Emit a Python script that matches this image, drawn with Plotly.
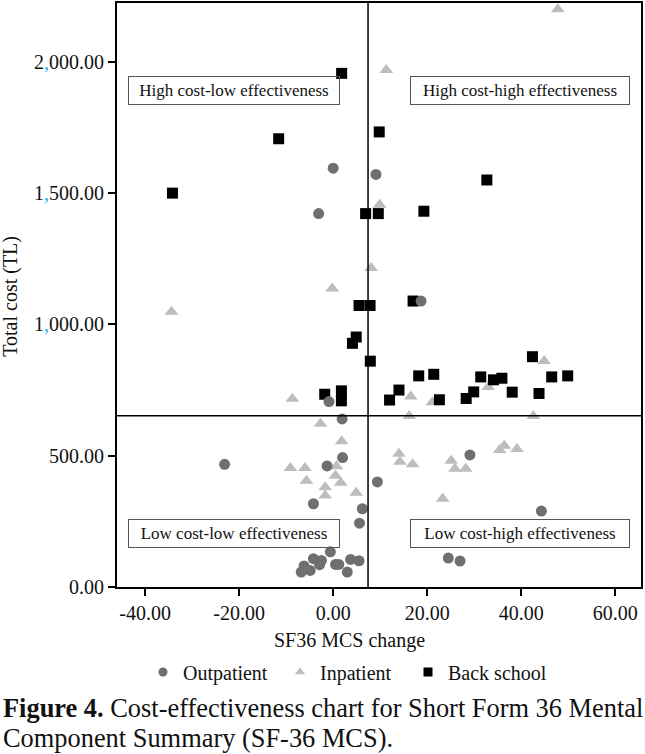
import plotly.graph_objects as go

# ---------------- data ----------------
out_x = [-3.1, 0.0, 9.1, 18.7, -0.9, 1.9, 2.0, -1.3, 9.4, -4.2, 6.2, 5.6, -0.6,
         -4.2, -2.5, -6.2, -6.8, -4.9, -2.9, 0.5, 1.2, 3.7, 5.5, 3.0,
         29.1, 44.3, 24.5, 27.0, -23.1]
out_y = [1422, 1595, 1571, 1089, 706, 640, 493, 461, 400, 317, 298, 243, 134,
         108, 101, 80, 57, 63, 85, 86, 86, 105, 100, 57,
         503, 289, 110, 99, 467]

inp_x = [47.8, 11.3, 9.9, 8.1, -0.2, -34.4, -8.7, -2.7, 1.8, -9.1, -6.0, -5.7,
         0.7, 0.5, 1.6, -1.7, -1.7, 4.9, 16.5, 16.2, 21.1, 33.0, 44.9, 42.6,
         14.0, 14.2, 16.9, 25.1, 25.9, 28.2, 35.4, 36.4, 39.1, 23.3]
inp_y = [2200, 1969, 1456, 1215, 1137, 1048, 717, 622, 555, 453, 453, 405,
         460, 424, 397, 380, 348, 359, 725, 651, 704, 762, 861, 651,
         507, 477, 467, 481, 450, 450, 522, 538, 526, 336]

bs_x = [-34.2, -11.6, 1.8, 9.8, 32.7, 6.9, 9.6, 19.3, 5.5, 7.85, 17.0, 4.1, 4.9,
        7.9, -1.8, 1.75, 1.75, 12.0, 14.0, 18.2, 21.4, 22.6, 28.3, 29.9, 31.4,
        34.1, 35.9, 38.1, 42.4, 43.8, 46.5, 49.9]
bs_y = [1500, 1707, 1956, 1733, 1550, 1422, 1422, 1431, 1072, 1072, 1089, 928, 952,
        860, 734, 747, 709, 712, 750, 804, 810, 713, 718, 743, 800,
        789, 795, 742, 877, 737, 800, 804]

series_names = ["Outpatient", "Inpatient", "Back school"]

x_tickvals = [-40, -20, 0, 20, 40, 60]
x_ticktext = ["-40.00", "-20.00", "0.00", "20.00", "40.00", "60.00"]
y_tickvals = [0, 500, 1000, 1500, 2000]
y_ticktext = ["0.00", "500.00", "1<span style='color:#29abe2'>,</span>000.00",
              "1<span style='color:#29abe2'>,</span>500.00",
              "2<span style='color:#29abe2'>,</span>000.00"]

x_ref = 7.42     # vertical reference line (SF36 MCS change)
y_ref = 652      # horizontal reference line (total cost)

quadrant_labels = ["High cost-low effectiveness", "High cost-high effectiveness",
                   "Low cost-low effectiveness", "Low cost-high effectiveness"]

x_title = "SF36 MCS change"
y_title = "Total cost (TL)"
caption_1 = "<b>Figure 4.</b> Cost-effectiveness chart for Short Form 36 Mental"
caption_2 = "Component Summary (SF-36 MCS)."

# ---------------- styling ----------------
FONT = "Liberation Serif, Times New Roman, serif"
C_OUT = "#6f6f72"
C_INP = "#bdbdbd"
C_BS = "#000000"

fig = go.Figure()

# draw order: inpatient, back school, outpatient (outpatient on top)
fig.add_trace(go.Scatter(x=inp_x, y=inp_y, mode="markers", name=series_names[1],
                         marker=dict(symbol="triangle-up", size=12, color=C_INP),
                         showlegend=False))
fig.add_trace(go.Scatter(x=bs_x, y=bs_y, mode="markers", name=series_names[2],
                         marker=dict(symbol="square", size=11, color=C_BS),
                         showlegend=False))
fig.add_trace(go.Scatter(x=out_x, y=out_y, mode="markers", name=series_names[0],
                         marker=dict(symbol="circle", size=11, color=C_OUT),
                         showlegend=False))

# legend entries (small symbols as in the reference), one legend per entry
legend_ids = ["legend", "legend2", "legend3"]
for name, sym, col, lid in zip(series_names, ["circle", "triangle-up", "square"],
                               [C_OUT, C_INP, C_BS], legend_ids):
    fig.add_trace(go.Scatter(x=[None], y=[None], mode="markers", name=name,
                             legend=lid,
                             marker=dict(symbol=sym, size=9, color=col)))

# reference lines
fig.add_shape(type="line", xref="x", yref="paper", x0=x_ref, x1=x_ref, y0=0, y1=1,
              line=dict(color="black", width=1.5))
fig.add_shape(type="line", xref="paper", yref="y", x0=0, x1=1, y0=y_ref, y1=y_ref,
              line=dict(color="black", width=1.5))

# quadrant label boxes
box_pos = [(0.2232, 0.8503, 210), (0.769, 0.8503, 218),
           (0.2232, 0.0912, 210), (0.769, 0.0912, 218)]
for txt, (bx, by, bw) in zip(quadrant_labels, box_pos):
    fig.add_annotation(xref="paper", yref="paper", x=bx, y=by, text=txt,
                       showarrow=False, width=bw, height=27, borderpad=0,
                       bordercolor="#555555", borderwidth=1,
                       font=dict(family=FONT, size=17, color="#111111"),
                       xanchor="center", yanchor="middle")

# axis titles
fig.add_annotation(xref="paper", yref="paper", x=0.444, y=-0.091, text=x_title,
                   showarrow=False, xanchor="center", yanchor="middle",
                   font=dict(family=FONT, size=20, color="#111111"))
fig.add_annotation(xref="paper", yref="paper", x=(11 - 117.3) / 523.7, y=0.498,
                   text=y_title,
                   showarrow=False, xanchor="center", yanchor="middle", textangle=-90,
                   font=dict(family=FONT, size=20, color="#111111"))

# caption
fig.add_annotation(xref="paper", yref="paper", x=-0.222, y=-0.2071, text=caption_1,
                   showarrow=False, xanchor="left", yanchor="middle", align="left",
                   font=dict(family=FONT, size=26.4, color="#111111"))
fig.add_annotation(xref="paper", yref="paper", x=-0.222, y=-0.2583, text=caption_2,
                   showarrow=False, xanchor="left", yanchor="middle", align="left",
                   font=dict(family=FONT, size=26.4, color="#111111"))

axis_common = dict(showgrid=False, zeroline=False, showline=True, linewidth=2,
                   linecolor="black", mirror=True, ticks="outside", ticklen=7,
                   tickwidth=2, tickcolor="black",
                   tickfont=dict(family=FONT, size=20, color="#111111"))

legend_common = dict(orientation="h", xref="container", yref="container",
                     y=0.1088, xanchor="left", yanchor="middle",
                     font=dict(family=FONT, size=20, color="#111111"),
                     bgcolor="rgba(0,0,0,0)", itemwidth=30)

fig.update_layout(
    width=645, height=754,
    margin=dict(l=117, r=4, t=1, b=167),
    paper_bgcolor="white", plot_bgcolor="white",
    xaxis=dict(range=[-46, 65.5], tickvals=x_tickvals, ticktext=x_ticktext,
               **axis_common),
    yaxis=dict(range=[0, 2224], tickvals=y_tickvals, ticktext=y_ticktext,
               **axis_common),
    legend=dict(x=143 / 645, **legend_common),
    legend2=dict(x=280 / 645, **legend_common),
    legend3=dict(x=408 / 645, **legend_common),
    showlegend=True,
)

fig.write_html("out.html", config={"displayModeBar": False},
               post_script="document.body.style.margin='0';")
